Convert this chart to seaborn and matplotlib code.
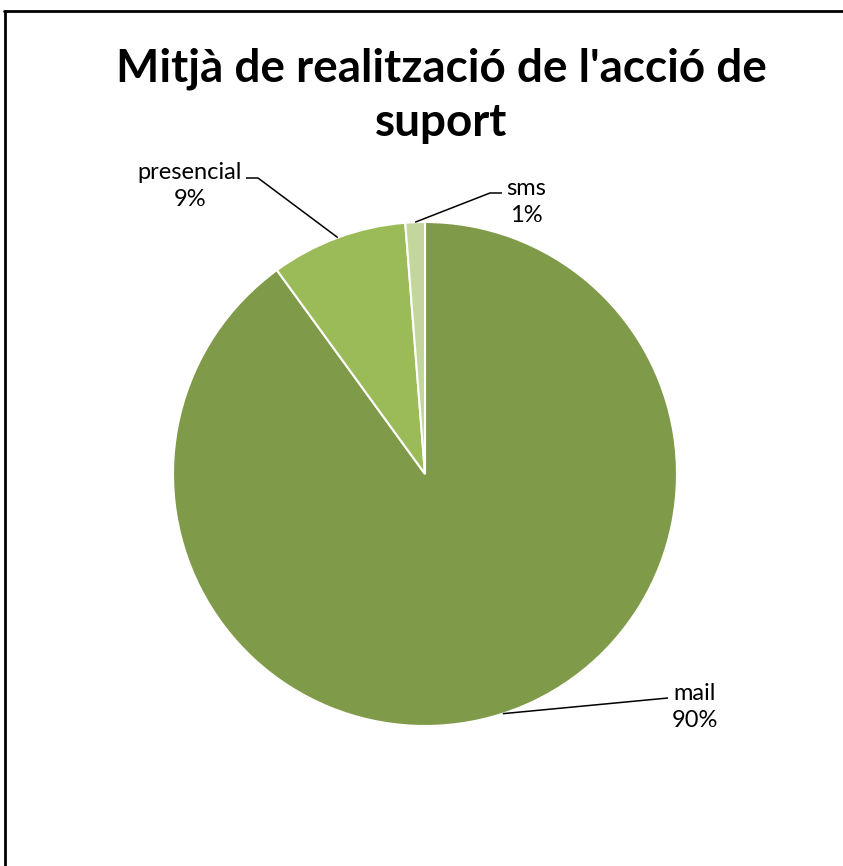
import matplotlib
matplotlib.use('Agg')
import matplotlib.pyplot as plt
import seaborn as sns
import numpy as np
from matplotlib.lines import Line2D

# dades del gràfic
categories = ['mail', 'presencial', 'sms']
shares = [90.0, 8.75, 1.25]
pct_labels = ['90%', '9%', '1%']
colors = ['#7F9A48', '#9BBB59', '#C3D69B']
title = "Mitjà de realització de l'acció de\nsuport"

sns.set_theme(style='white')
plt.rcParams['font.family'] = ['Lato', 'DejaVu Sans']

W, H = 843, 866
fig = plt.figure(figsize=(W / 100, H / 100), dpi=100)
ax = fig.add_axes([0, 0, 1, 1])


def py(y):
    # coordenada vertical en píxels (des de dalt) -> dades
    return H - y


cx, cy, r = 425, py(474), 252
wedges, _ = ax.pie(shares, colors=colors, startangle=90, counterclock=False,
                   center=(cx, cy), radius=r,
                   wedgeprops=dict(edgecolor='white', linewidth=1.5))
ax.set_xlim(0, W)
ax.set_ylim(0, H)
ax.set_aspect('equal')
ax.axis('off')

# posició de les etiquetes i colzes de les línies guia (píxels)
label_pos = {'mail': (695, 707), 'presencial': (190, 186), 'sms': (526, 202)}
elbows = {'mail': [(668, 698)],
          'presencial': [(258, 178), (246, 178)],
          'sms': [(490, 193), (502, 193)]}

for w, cat, pct in zip(wedges, categories, pct_labels):
    ang = np.deg2rad((w.theta1 + w.theta2) / 2)
    ax0 = cx + r * np.cos(ang)
    ay0 = cy + r * np.sin(ang)
    xs = [ax0] + [p[0] for p in elbows[cat]]
    ys = [ay0] + [py(p[1]) for p in elbows[cat]]
    ax.plot(xs, ys, color='black', lw=1.1, solid_capstyle='butt')
    tx, ty = label_pos[cat]
    ax.text(tx, py(ty), f'{cat}\n{pct}', ha='center', va='center',
            fontsize=17, color='black', linespacing=1.35)

fig.text(441 / W, 1 - 96 / H, title, ha='center', va='center', fontsize=33,
         fontweight='bold', color='black', linespacing=1.36)

# vora del gràfic (només dalt i esquerra visibles)
fig.add_artist(Line2D([4 / W, 1], [1 - 11 / H, 1 - 11 / H],
                      transform=fig.transFigure, color='black', lw=2))
fig.add_artist(Line2D([5 / W, 5 / W], [0, 1 - 11 / H],
                      transform=fig.transFigure, color='black', lw=2))

fig.savefig('out.png', dpi=100, facecolor='white')
